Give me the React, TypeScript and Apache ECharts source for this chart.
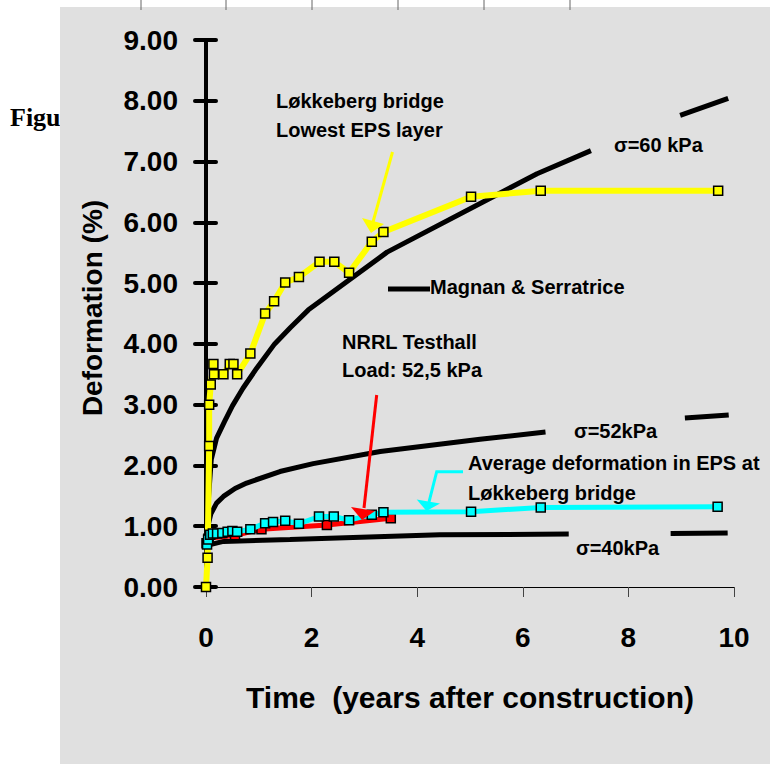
import React, { useEffect, useRef } from "react";
import * as echarts from "echarts";

// Magnan & Serratrice reference curves (split where their labels interrupt them)
const sigma60Parts: number[][][] = [
  [[0.02, 1.0], [0.05, 1.5], [0.1, 2.1], [0.2, 2.45], [0.35, 2.72], [0.5, 2.98], [0.7, 3.27], [0.96, 3.6], [1.3, 4.0], [1.6, 4.27], [1.94, 4.56], [3.43, 5.51], [6.27, 6.8], [7.29, 7.18]],
  [[8.98, 7.76], [9.89, 8.04]],
];
const sigma52Parts: number[][][] = [
  [[0.02, 0.85], [0.05, 1.05], [0.09, 1.2], [0.2, 1.38], [0.33, 1.49], [0.55, 1.62], [0.77, 1.71], [1.4, 1.9], [2.03, 2.03], [3.3, 2.23], [5.19, 2.43], [6.43, 2.55]],
  [[9.07, 2.78], [9.9, 2.83]],
];
const sigma40Parts: number[][][] = [
  [[0.02, 0.62], [0.04, 0.69], [0.33, 0.75], [1.59, 0.78], [4.43, 0.86], [6.87, 0.87]],
  [[8.8, 0.88], [9.88, 0.89]],
];

// Løkkeberg bridge, lowest EPS layer
const lokkebergLowest: number[][] = [
  [0, 0], [0.03, 0.48], [0.06, 2.32], [0.06, 3.0], [0.09, 3.33], [0.14, 3.67], [0.15, 3.5],
  [0.33, 3.5], [0.45, 3.67], [0.52, 3.67], [0.59, 3.5], [0.84, 3.84], [1.12, 4.5], [1.29, 4.7],
  [1.5, 5.01], [1.76, 5.1], [2.15, 5.35], [2.43, 5.35], [2.71, 5.17], [3.14, 5.68], [3.36, 5.84],
  [5.02, 6.42], [6.34, 6.52], [9.7, 6.52],
];

// NRRL Testhall, load 52,5 kPa
const nrrlTesthall: number[][] = [
  [0.01, 0.72], [0.05, 0.8], [0.55, 0.85], [1.05, 0.95], [2.29, 1.02], [3.5, 1.13],
];

// Average deformation in EPS at Løkkeberg bridge
const lokkebergAverage: number[][] = [
  [0.02, 0.7], [0.04, 0.78], [0.08, 0.86], [0.13, 0.88], [0.21, 0.88], [0.31, 0.89],
  [0.41, 0.91], [0.5, 0.92], [0.59, 0.91], [0.84, 0.95], [1.12, 1.05], [1.27, 1.07], [1.5, 1.09],
  [1.76, 1.04], [2.14, 1.16], [2.42, 1.16], [2.71, 1.1], [3.14, 1.19], [3.36, 1.23], [5.02, 1.24],
  [6.34, 1.31], [9.69, 1.32],
];

const xTicks = [0, 2, 4, 6, 8, 10];
const yTicks = [0, 1, 2, 3, 4, 5, 6, 7, 8, 9];

const FONT = 'Arial, "Liberation Sans", sans-serif';

export default function App() {
  const ref = useRef<HTMLDivElement>(null);

  useEffect(() => {
    if (!ref.current) return;
    const chart = echarts.init(ref.current, null, { renderer: "svg" });

    const blackCurve = (parts: number[][][], name: string) =>
      parts.map((p) => ({
        type: "line",
        name,
        data: p,
        showSymbol: false,
        symbol: "none",
        smooth: false,
        lineStyle: { color: "#000", width: 5 },
        z: 3,
      }));

    const marked = (data: number[][], color: string, width: number, z: number) => ({
      type: "line",
      data,
      symbol: "rect",
      symbolSize: 9,
      lineStyle: { color, width },
      itemStyle: { color, borderColor: "#000", borderWidth: 1.5 },
      z,
    });

    const label = (text: string, x: number, y: number) => ({
      type: "text",
      x,
      y,
      z: 50,
      style: {
        text,
        fill: "#000",
        fontSize: 20,
        fontWeight: "bold",
        fontFamily: FONT,
        align: "left",
        verticalAlign: "middle",
      },
    });

    const topTicks = [141, 226, 312, 398, 484, 570].map((x) => ({
      type: "line",
      z: 50,
      shape: { x1: x, y1: 0, x2: x, y2: 10 },
      style: { stroke: "#666", lineWidth: 1 },
    }));

    chart.setOption({
      animation: false,
      grid: { left: 206, right: 39, top: 40, bottom: 177, containLabel: false },
      xAxis: {
        type: "value",
        min: xTicks[0],
        max: xTicks[xTicks.length - 1],
        interval: 2,
        axisLine: { show: true, onZero: false, lineStyle: { color: "#000", width: 1 } },
        axisTick: { show: true, length: 10, lineStyle: { color: "#444", width: 1 } },
        axisLabel: { fontSize: 28, fontWeight: "bold", fontFamily: FONT, color: "#000", margin: 36 },
        splitLine: { show: false },
        name: "Time  (years after construction)",
        nameLocation: "middle",
        nameGap: 95,
        nameTextStyle: { fontSize: 30, fontWeight: "bold", fontFamily: FONT, color: "#000" },
      },
      yAxis: [
        {
          type: "value",
          min: yTicks[0],
          max: yTicks[yTicks.length - 1],
          interval: 1,
          axisLine: { show: true, lineStyle: { color: "#000", width: 4 } },
          axisTick: { show: true, length: 11, lineStyle: { color: "#000", width: 4, cap: "round" } },
          axisLabel: {
            fontSize: 28,
            fontWeight: "bold",
            fontFamily: FONT,
            color: "#000",
            margin: 28,
            formatter: (v: number) => v.toFixed(2),
          },
          splitLine: { show: false },
        },
        {
          type: "value",
          position: "left",
          min: yTicks[0],
          max: yTicks[yTicks.length - 1],
          interval: 1,
          axisLine: { show: false },
          axisTick: { show: true, inside: true, length: 10, lineStyle: { color: "#000", width: 4, cap: "round" } },
          axisLabel: { show: false },
          splitLine: { show: false },
        },
      ],
      series: [
        ...blackCurve(sigma60Parts, "σ=60 kPa"),
        ...blackCurve(sigma52Parts, "σ=52kPa"),
        ...blackCurve(sigma40Parts, "σ=40kPa"),
        marked(lokkebergLowest, "#ffff00", 6, 4),
        marked(nrrlTesthall, "#ff0000", 5, 5),
        marked(lokkebergAverage, "#00ffff", 5, 6),
      ],
      graphic: [
        {
          type: "text",
          x: 10,
          y: 117,
          z: -20,
          style: {
            text: "Figure",
            fill: "#000",
            fontSize: 26,
            fontWeight: "bold",
            fontFamily: '"Times New Roman", "Liberation Serif", serif',
            verticalAlign: "middle",
          },
        },
        {
          type: "rect",
          z: -10,
          shape: { x: 60, y: 7, width: 710, height: 757 },
          style: { fill: "#e0e0e0" },
        },
        ...topTicks,
        {
          type: "text",
          x: 92,
          y: 308,
          rotation: Math.PI / 2,
          z: 50,
          style: {
            text: "Deformation (%)",
            fill: "#000",
            fontSize: 28,
            fontWeight: "bold",
            fontFamily: FONT,
            align: "center",
            verticalAlign: "middle",
          },
        },
        label("σ=60 kPa", 614, 145),
        label("σ=52kPa", 574, 431),
        label("σ=40kPa", 576, 548),
        label("Magnan & Serratrice", 430, 287),
        {
          type: "line",
          z: 50,
          shape: { x1: 388, y1: 289, x2: 430, y2: 289 },
          style: { stroke: "#000", lineWidth: 5 },
        },
        label("Løkkeberg bridge", 276, 101),
        label("Lowest EPS layer", 276, 130),
        label("NRRL Testhall", 342, 342),
        label("Load: 52,5 kPa", 342, 370),
        label("Average deformation in EPS at", 468, 463),
        label("Løkkeberg bridge", 468, 493),
        // yellow arrow
        {
          type: "line",
          z: 50,
          shape: { x1: 392.5, y1: 152, x2: 373, y2: 222 },
          style: { stroke: "#ffff00", lineWidth: 3 },
        },
        {
          type: "polygon",
          z: 50,
          shape: { points: [[362, 218], [384, 224], [371, 233]] },
          style: { fill: "#ffff00" },
        },
        // red arrow
        {
          type: "line",
          z: 50,
          shape: { x1: 376.7, y1: 395, x2: 364, y2: 508 },
          style: { stroke: "#ff0000", lineWidth: 3 },
        },
        {
          type: "polygon",
          z: 50,
          shape: { points: [[351, 507], [375, 511], [362, 520]] },
          style: { fill: "#ff0000" },
        },
        // cyan arrow
        {
          type: "polyline",
          z: 50,
          shape: { points: [[463, 471.7], [436.7, 471.7], [429, 502]] },
          style: { stroke: "#00ffff", lineWidth: 3, fill: null },
        },
        {
          type: "polygon",
          z: 50,
          shape: { points: [[416.7, 499.5], [440, 503.5], [426.5, 511]] },
          style: { fill: "#00ffff" },
        },
      ],
    });

    return () => chart.dispose();
  }, []);

  return (
    <div
      ref={ref}
      style={{ position: "fixed", left: 0, top: 0, width: 773, height: 764, background: "#fff" }}
    />
  );
}
